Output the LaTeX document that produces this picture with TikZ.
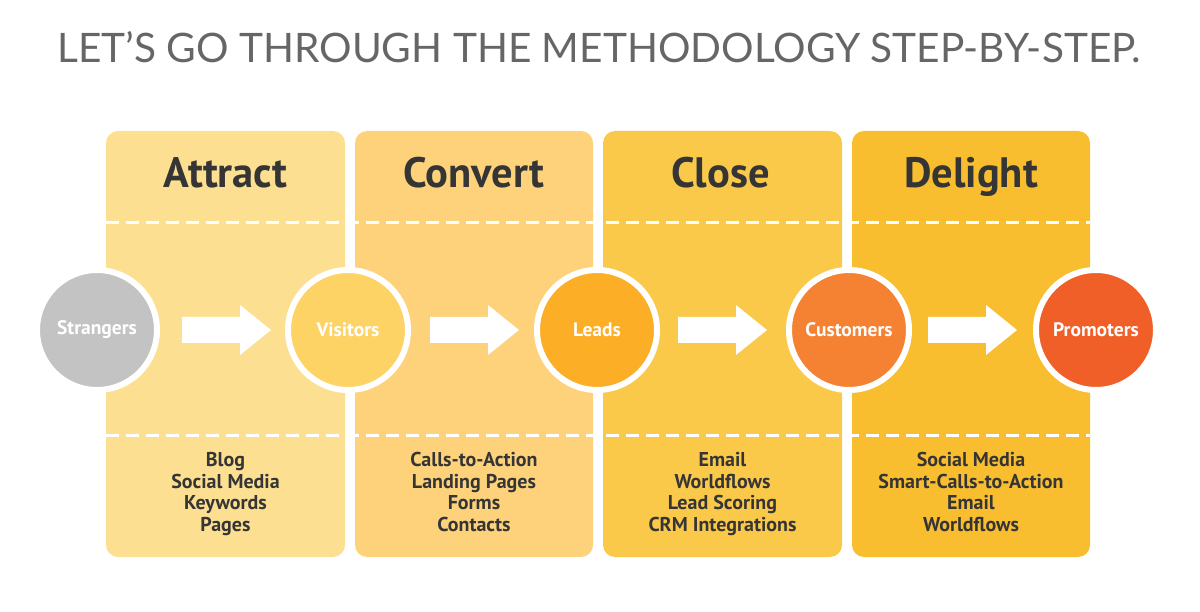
\documentclass[tikz,border=0pt]{standalone}
\usepackage{fontspec}
\setmainfont{PT Sans}
\newfontfamily\titlefont{Lato}
\definecolor{colA}{HTML}{FCDF91}
\definecolor{colB}{HTML}{FDD27A}
\definecolor{colC}{HTML}{FBC94A}
\definecolor{colD}{HTML}{F9BE2F}
\definecolor{cStr}{HTML}{C3C3C3}
\definecolor{cVis}{HTML}{FDD366}
\definecolor{cLea}{HTML}{FBAE26}
\definecolor{cCus}{HTML}{F58232}
\definecolor{cPro}{HTML}{F15F29}
\definecolor{txt}{HTML}{353535}
\definecolor{ttl}{HTML}{666666}
\begin{document}
\begin{tikzpicture}[x=1pt,y=-1pt,
  colbox/.style={rounded corners=12pt},
  head/.style={font=\fontsize{42.5}{46}\selectfont\bfseries, text=txt, anchor=base},
  items/.style={font=\fontsize{20}{21.5}\selectfont\bfseries, text=txt, align=center, anchor=north},
  stage/.style={circle, draw=white, line width=6pt, minimum size=120pt, inner sep=0pt, text=white, font=\fontsize{19.5}{22}\selectfont\bfseries},
  dashline/.style={white, line width=3pt, dash pattern=on 13pt off 7pt},
  blockarrow/.style={fill=white}]
\useasboundingbox (0,0) rectangle (1200,612);
\node[font=\titlefont\fontsize{40.6}{44}\selectfont, text=ttl] (title) at (599,47) {LET’S GO THROUGH THE METHODOLOGY STEP-BY-STEP.};
% columns
\fill[colA, colbox] (106,131) rectangle (345,557);
\fill[colB, colbox] (355,131) rectangle (593,557);
\fill[colC, colbox] (603,131) rectangle (842,557);
\fill[colD, colbox] (852,131) rectangle (1090,557);
% headings
\node[head] (hA) at (225.5,188) {Attract};
\node[head] (hB) at (474,188) {Convert};
\node[head] (hC) at (720.5,188) {Close};
\node[head] (hD) at (971,188) {Delight};
% dashed lines
\draw[dashline] (106,223) -- (1090,223);
\draw[dashline] (106,435) -- (1090,435);
% stage circles
\node[stage, fill=cStr] (str) at (97,330) {Strangers};
\node[stage, fill=cVis] (vis) at (348,330) {Visitors};
\node[stage, fill=cLea] (lea) at (597,330) {Leads};
\node[stage, fill=cCus] (cus) at (849,330) {Customers};
\node[stage, fill=cPro] (pro) at (1096,330) {Promoters};
% block arrows
\foreach \x in {182,430,678,928}{
  \fill[blockarrow] (\x,317) -- ++(58,0) -- ++(0,-12) -- ++(31,25) -- ++(-31,25) -- ++(0,-12) -- ++(-58,0) -- cycle;
}
% item lists
\node[items] (iA) at (225.5,449) {Blog\\Social Media\\Keywords\\Pages};
\node[items] (iB) at (474,449) {Calls-to-Action\\Landing Pages\\Forms\\Contacts};
\node[items] (iC) at (722.5,449) {Email\\Worldflows\\Lead Scoring\\CRM Integrations};
\node[items] (iD) at (971,449) {Social Media\\Smart-Calls-to-Action\\Email\\Worldflows};
\end{tikzpicture}
\end{document}
